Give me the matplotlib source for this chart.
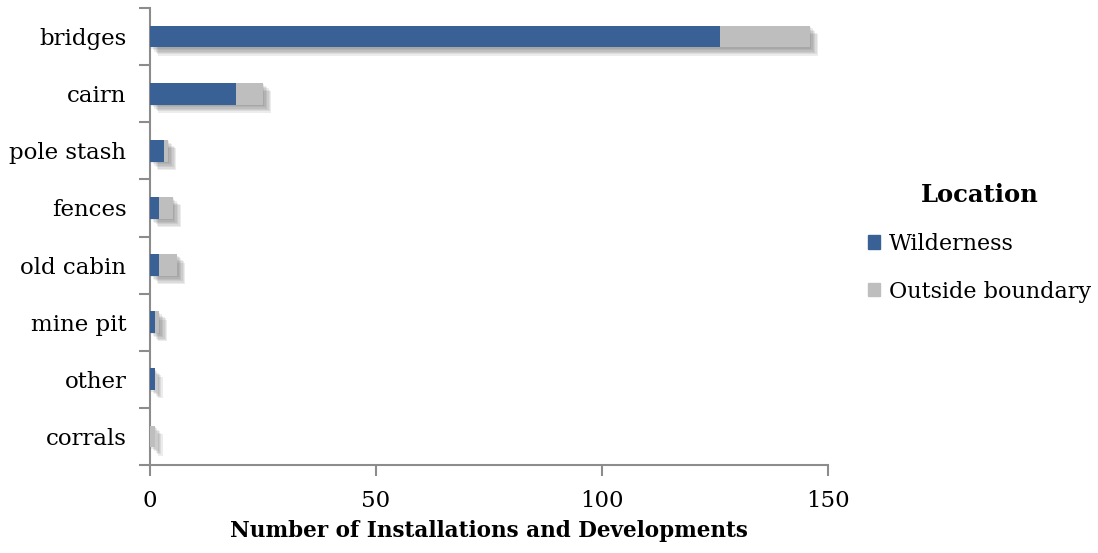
import numpy as np
import matplotlib
matplotlib.use("Agg")
import matplotlib.pyplot as plt
import matplotlib.patheffects as pe
from matplotlib.patches import Patch

# data (top to bottom)
categories = ["bridges", "cairn", "pole stash", "fences", "old cabin",
              "mine pit", "other", "corrals"]
wilderness = [126, 19, 3, 2, 2, 1, 1, 0]
outside = [20, 6, 1, 3, 4, 1, 0, 1]
xticks = [0, 50, 100, 150]

blue = "#3A6195"
grey = "#BEBEBE"
axis_grey = "#8C8C8C"

plt.rcParams["font.family"] = ["DejaVu Serif"]

fig = plt.figure(figsize=(10.98, 5.53), dpi=100)
ax = fig.add_axes([150/1098, 1 - 465/553, (828-150)/1098, (465-8)/553])

y = np.arange(len(categories))
total = np.array(wilderness) + np.array(outside)

# soft drop shadow under the whole stacked bar, built from a few faint layers
soft = [pe.SimplePatchShadow(offset=(d, -d), shadow_rgbFace="#555555", alpha=0.11)
        for d in (1, 2, 3, 4, 5, 6)]
shad = ax.barh(y, total, height=0.38, color="none", zorder=2)
for b in shad:
    b.set_path_effects(soft)

ax.barh(y, wilderness, height=0.38, color=blue, zorder=3)
ax.barh(y, outside, left=wilderness, height=0.38, color=grey, zorder=3)

ax.set_ylim(len(categories) - 0.5, -0.5)
ax.set_xlim(0, 150)
ax.set_yticks(y)
ax.set_yticklabels(categories, fontsize=16.5)
ax.set_yticks(np.arange(len(categories) + 1) - 0.5, minor=True)
ax.tick_params(axis="y", which="major", length=0, pad=17)
ax.tick_params(axis="y", which="minor", length=8, width=1.5, color=axis_grey)
ax.set_xticks(xticks)
ax.set_xticklabels([str(t) for t in xticks], fontsize=16.5)
ax.tick_params(axis="x", length=8, width=1.5, color=axis_grey, pad=10)

for s in ["top", "right"]:
    ax.spines[s].set_visible(False)
for s in ["left", "bottom"]:
    ax.spines[s].set_color(axis_grey)
    ax.spines[s].set_linewidth(1.5)

ax.set_xlabel("Number of Installations and Developments", fontsize=15.5,
              fontweight="bold", labelpad=6)

handles = [Patch(color=blue, label="Wilderness"),
           Patch(color=grey, label="Outside boundary")]
leg = fig.legend(handles=handles, title="Location", loc="center left",
                 bbox_to_anchor=(848/1098, 1 - 243/553), frameon=False,
                 fontsize=16, title_fontproperties={"weight": "bold", "size": 17.5},
                 handlelength=0.55, handleheight=0.55, handletextpad=0.4,
                 labelspacing=1.15)

fig.savefig("out.png", dpi=100)
